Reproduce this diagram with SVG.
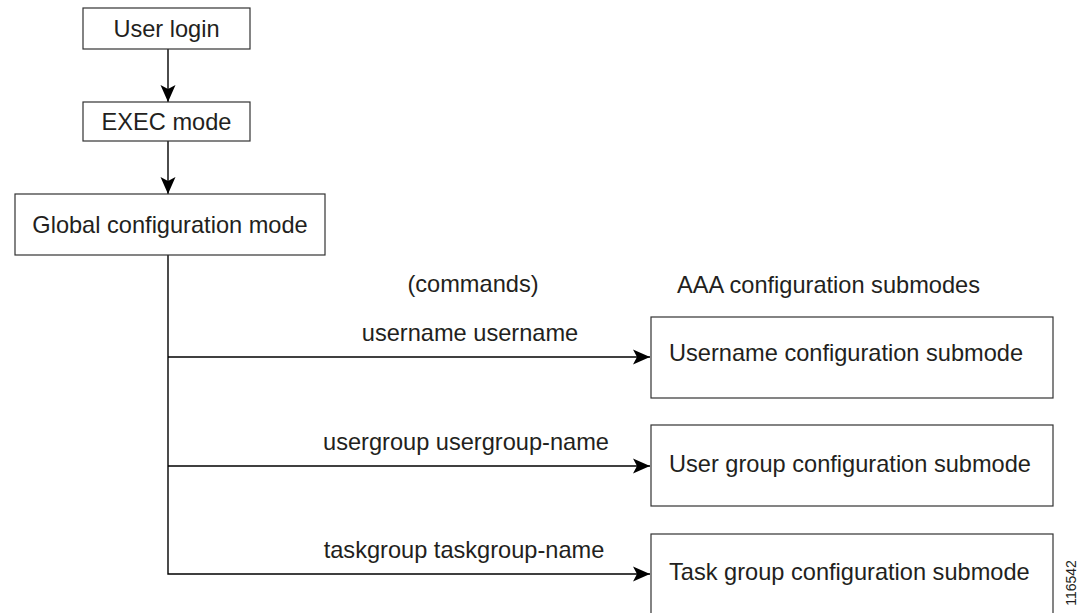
<svg xmlns="http://www.w3.org/2000/svg" width="1079" height="613" viewBox="0 0 1079 613">
<style>
.box{fill:#fff;stroke:#333;stroke-width:1.2}
.lbl{font-family:"Liberation Sans",Arial,sans-serif;font-size:23.6px;fill:#231f20}
.mid{text-anchor:middle}
.ln{fill:none;stroke:#000;stroke-width:1.4}
</style>
<defs>
<marker id="ah" markerUnits="userSpaceOnUse" markerWidth="18" markerHeight="16" viewBox="0 0 18 16" refX="17" refY="8" orient="auto">
<path d="M0,0.5 L17,8 L0,15.5 L4,8 Z" fill="#000"/>
</marker>
</defs>
<rect width="1079" height="613" fill="#fff"/>
<g id="connectors">
<line class="ln" x1="168" y1="49" x2="168" y2="102" marker-end="url(#ah)"/>
<line class="ln" x1="168" y1="141" x2="168" y2="194" marker-end="url(#ah)"/>
<polyline class="ln" points="168,255 168,574 650,574" marker-end="url(#ah)"/>
<line class="ln" x1="168" y1="357" x2="650" y2="357" marker-end="url(#ah)"/>
<line class="ln" x1="168" y1="466" x2="650" y2="466" marker-end="url(#ah)"/>
</g>
<g id="user-login">
<rect class="box" x="83" y="8" width="167" height="41"/>
<text class="lbl mid" x="166.5" y="37">User login</text>
</g>
<g id="exec-mode">
<rect class="box" x="83" y="102" width="167" height="39"/>
<text class="lbl mid" x="166.5" y="130">EXEC mode</text>
</g>
<g id="global-config">
<rect class="box" x="15" y="194" width="310" height="61"/>
<text class="lbl mid" x="170" y="233">Global configuration mode</text>
</g>
<g id="labels">
<text class="lbl mid" x="473" y="292">(commands)</text>
<text class="lbl mid" x="470" y="341">username username</text>
<text class="lbl mid" x="466" y="450">usergroup usergroup-name</text>
<text class="lbl mid" x="464" y="558">taskgroup taskgroup-name</text>
<text class="lbl" x="677" y="293">AAA configuration submodes</text>
</g>
<g id="username-submode">
<rect class="box" x="651" y="317" width="402" height="81"/>
<text class="lbl" x="669" y="361">Username configuration submode</text>
</g>
<g id="usergroup-submode">
<rect class="box" x="651" y="425" width="402" height="81"/>
<text class="lbl" x="669" y="472">User group configuration submode</text>
</g>
<g id="taskgroup-submode">
<rect class="box" x="651" y="534" width="402" height="90"/>
<text class="lbl" x="669" y="580">Task group configuration submode</text>
</g>
<text transform="translate(1076,583) rotate(-90)" text-anchor="middle" font-family="'Liberation Sans',Arial,sans-serif" font-size="14" fill="#231f20">116542</text>
</svg>
